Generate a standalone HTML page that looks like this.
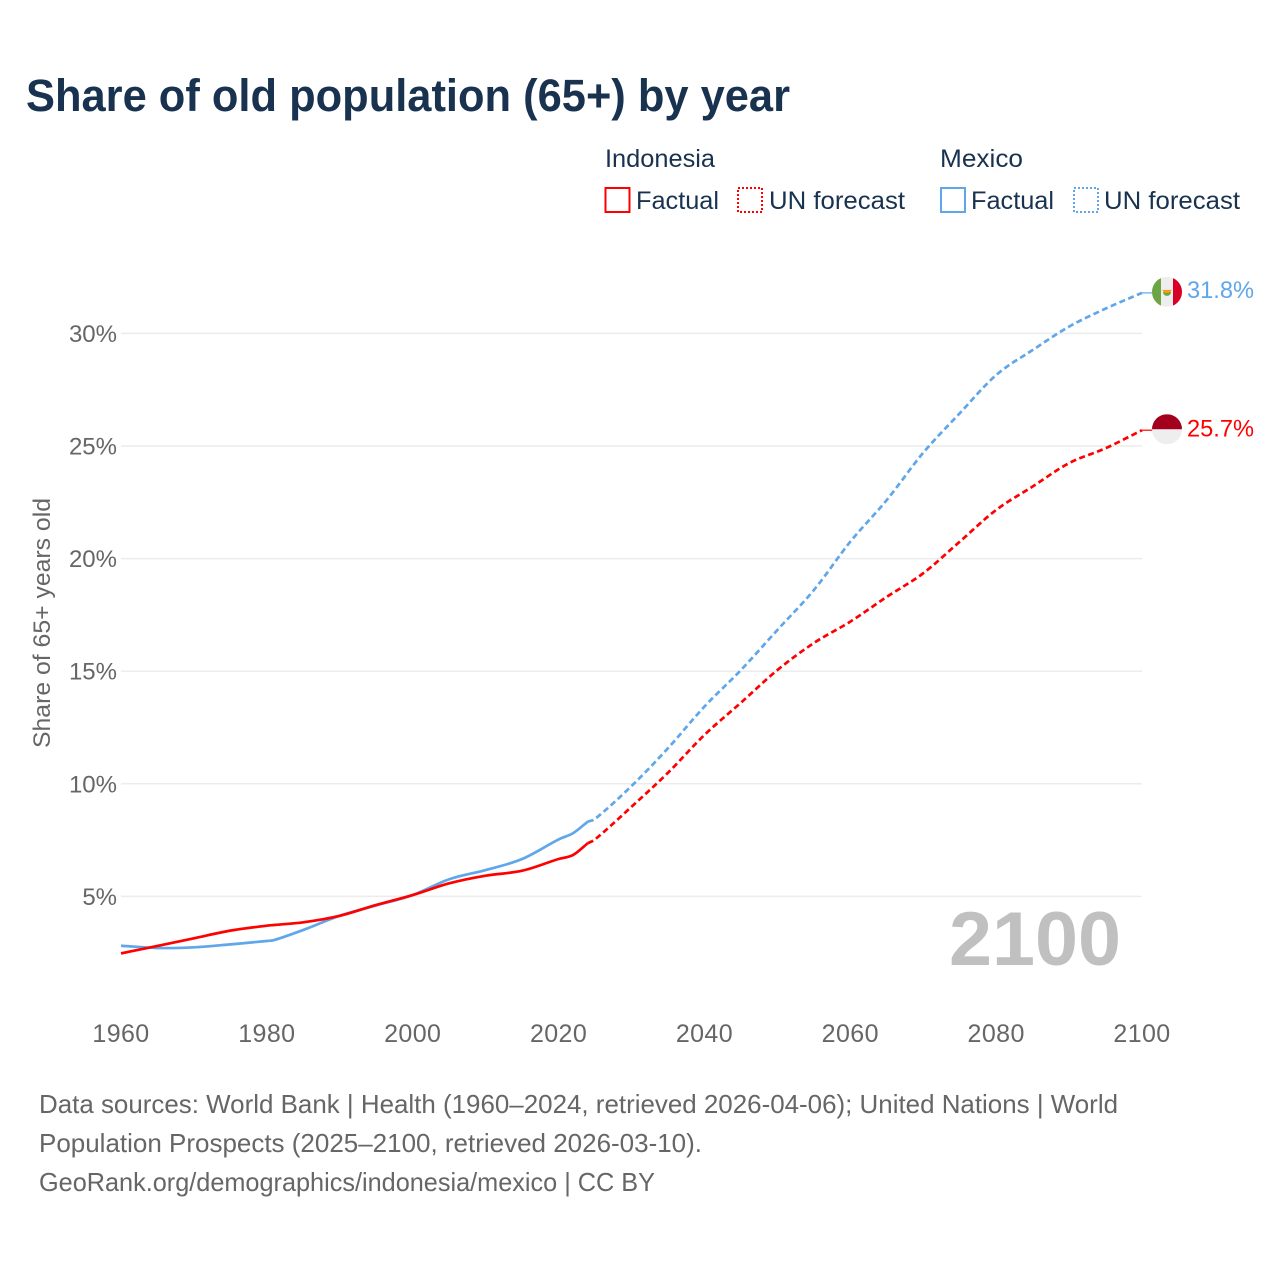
<!DOCTYPE html>
<html lang="en">
<head>
<meta charset="utf-8">
<title>Share of old population (65+) by year</title>
<style>
html,body{margin:0;padding:0;background:#fff;width:1280px;height:1280px;overflow:hidden}
svg{display:block}
text{font-family:"Liberation Sans",sans-serif}
</style>
</head>
<body>
<svg id="chart" xmlns="http://www.w3.org/2000/svg" width="1280" height="1280" viewBox="0 0 1280 1280">
  <rect width="1280" height="1280" fill="#fff"/>
  <text x="26" y="111" font-size="45" font-weight="700" fill="#18324f" textLength="764" lengthAdjust="spacingAndGlyphs">Share of old population (65+) by year</text>

  <g font-size="25" fill="#18324f">
    <text x="605" y="167" textLength="110" lengthAdjust="spacingAndGlyphs">Indonesia</text>
    <text x="940" y="167" textLength="83" lengthAdjust="spacingAndGlyphs">Mexico</text>
    <rect x="605.5" y="188" width="24" height="24" fill="none" stroke="#ff0000" stroke-width="2"/>
    <text x="636" y="209" textLength="83" lengthAdjust="spacingAndGlyphs">Factual</text>
    <rect x="738" y="188" width="24" height="24" fill="none" stroke="#ff0000" stroke-width="2" stroke-dasharray="2 2"/>
    <text x="769" y="209" textLength="136" lengthAdjust="spacingAndGlyphs">UN forecast</text>
    <rect x="941" y="188" width="24" height="24" fill="none" stroke="#5fa6ea" stroke-width="2"/>
    <text x="971" y="209" textLength="83" lengthAdjust="spacingAndGlyphs">Factual</text>
    <rect x="1074" y="188" width="24" height="24" fill="none" stroke="#5fa6ea" stroke-width="2" stroke-dasharray="2 2"/>
    <text x="1104" y="209" textLength="136" lengthAdjust="spacingAndGlyphs">UN forecast</text>
  </g>

  <g id="grid"></g>
  <g id="yticks"></g>
  <g id="xticks"></g>

  <text transform="translate(50,748) rotate(-90)" font-size="24" fill="#666" textLength="250" lengthAdjust="spacingAndGlyphs">Share of 65+ years old</text>

  <text x="949" y="965" font-size="76" font-weight="700" fill="#c0c0c0" textLength="172" lengthAdjust="spacingAndGlyphs">2100</text>

  <g id="series"></g>

  <g id="flag-mexico">
    <clipPath id="clip-mx"><circle r="15"/></clipPath>
    <g clip-path="url(#clip-mx)">
      <rect x="-15" y="-15" width="30" height="30" fill="#eeeeee"/>
      <rect x="-15" y="-15" width="9" height="30" fill="#6da544"/>
      <rect x="6" y="-15" width="9" height="30" fill="#d80027"/>
      <path d="M-4 0a4 4 0 0 0 8 0z" fill="#6da544"/>
      <path d="M-5 -2h10l-3 3h-4z" fill="#ff9811"/>
    </g>
  </g>
  <g id="flag-indonesia">
    <clipPath id="clip-id"><circle r="15"/></clipPath>
    <g clip-path="url(#clip-id)">
      <rect x="-15" y="-15" width="30" height="30" fill="#eeeeee"/>
      <rect x="-15" y="-15" width="30" height="15" fill="#a2001d"/>
    </g>
  </g>
  <text id="label-mexico" x="1187" font-size="24.5" fill="#5fa6ea" textLength="67" lengthAdjust="spacingAndGlyphs"></text>
  <text id="label-indonesia" x="1187" font-size="24.5" fill="#ff0000" textLength="67" lengthAdjust="spacingAndGlyphs"></text>

  <g font-size="26" fill="#666">
    <text x="39" y="1113" textLength="1079" lengthAdjust="spacingAndGlyphs">Data sources: World Bank | Health (1960–2024, retrieved 2026-04-06); United Nations | World</text>
    <text x="39" y="1152" textLength="663" lengthAdjust="spacingAndGlyphs">Population Prospects (2025–2100, retrieved 2026-03-10).</text>
    <text x="39" y="1191" textLength="616" lengthAdjust="spacingAndGlyphs">GeoRank.org/demographics/indonesia/mexico | CC BY</text>
  </g>
</svg>
<script>
const factualYears = [1960,1965,1970,1975,1980,1981,1985,1990,1995,2000,2005,2010,2015,2020,2022,2024];
const indonesiaFactual = [2.47,2.80,3.14,3.48,3.70,3.73,3.85,4.14,4.62,5.06,5.58,5.92,6.14,6.66,6.84,7.36];
const mexicoFactual = [2.81,2.71,2.74,2.87,3.02,3.06,3.51,4.14,4.60,5.06,5.76,6.17,6.66,7.53,7.81,8.32];
const forecastYears = [2024,2025,2030,2035,2040,2045,2050,2055,2060,2065,2070,2075,2080,2085,2090,2095,2100];
const indonesiaForecast = [7.36,7.53,8.98,10.49,12.17,13.60,15.05,16.25,17.20,18.30,19.35,20.75,22.16,23.20,24.24,24.90,25.70];
const mexicoForecast = [8.32,8.44,9.90,11.58,13.43,15.05,16.83,18.60,20.75,22.60,24.70,26.45,28.15,29.26,30.30,31.10,31.80];
const yTickValues = [5,10,15,20,25,30];
const xTickValues = [1960,1980,2000,2020,2040,2060,2080,2100];

const NS = 'http://www.w3.org/2000/svg';
function xScale(year){ return 121 + (year - 1960) * (1142 - 121) / 140; }
function yScale(v){ return 1009 - v * 22.52; }
function make(tag, attrs, parent){
  const el = document.createElementNS(NS, tag);
  for (const k in attrs) el.setAttribute(k, attrs[k]);
  parent.appendChild(el);
  return el;
}
const gridG = document.getElementById('grid');
const yG = document.getElementById('yticks');
const xG = document.getElementById('xticks');
const seriesG = document.getElementById('series');

yTickValues.forEach(function(v){
  const line = make('line', {x1:121, x2:1142, y1:yScale(v), y2:yScale(v), stroke:'#ececec', 'stroke-width':1.5}, gridG);
  
  
  const t = make('text', {x:117, y:yScale(v) + 8.5, 'text-anchor':'end', 'font-size':24, fill:'#666'}, yG);
  
  
  t.textContent = v + '%';
});
xTickValues.forEach(function(y){
  const t = make('text', {x:xScale(y), y:1042, 'text-anchor':'middle', 'font-size':25, 'letter-spacing':0.4, fill:'#666'}, xG);
  
  
  t.textContent = y;
});
function pathFor(years, values){
  const xs = years.map(xScale);
  const ys = values.map(yScale);
  const n = xs.length;
  const slope = xs.map(function(x, i){
    const a = Math.max(i - 1, 0);
    const b = Math.min(i + 1, n - 1);
    return (ys[b] - ys[a]) / (xs[b] - xs[a]);
  });
  let d = 'M' + xs[0].toFixed(2) + ' ' + ys[0].toFixed(2);
  for (let i = 1; i < n; i++) {
    const h = (xs[i] - xs[i - 1]) / 3;
    d += 'C' + (xs[i - 1] + h).toFixed(2) + ' ' + (ys[i - 1] + slope[i - 1] * h).toFixed(2) +
         ' ' + (xs[i] - h).toFixed(2) + ' ' + (ys[i] - slope[i] * h).toFixed(2) +
         ' ' + xs[i].toFixed(2) + ' ' + ys[i].toFixed(2);
  }
  return d;
}
function drawLine(name, years, values, color, dash){
  const attrs = {d:pathFor(years, values), fill:'none', stroke:color, 'stroke-width':2.7, 'stroke-linejoin':'round'};
  if (dash) attrs['stroke-dasharray'] = dash;
  const p = make('path', attrs, seriesG);
  
  
}
drawLine('line-mexico-factual', factualYears, mexicoFactual, '#5fa6ea');
drawLine('line-mexico-forecast', forecastYears, mexicoForecast, '#5fa6ea', '6 3.5');
drawLine('line-indonesia-factual', factualYears, indonesiaFactual, '#ff0000');
drawLine('line-indonesia-forecast', forecastYears, indonesiaForecast, '#ff0000', '6 3.5');

function endMark(key, values, color, labelOffset){
  const last = values[values.length - 1];
  const yy = yScale(last);
  const lead = make('line', {x1:xScale(2100), x2:1153, y1:yy, y2:yy, stroke:color, 'stroke-width':1.5, 'stroke-opacity':0.8}, seriesG);
  
  
  document.getElementById('flag-' + key).setAttribute('transform', 'translate(1167,' + (yy - 1) + ')');
  const lab = document.getElementById('label-' + key);
  lab.setAttribute('y', yy + labelOffset);
  lab.textContent = last.toFixed(1) + '%';
}
endMark('mexico', mexicoForecast, '#5fa6ea', 5);
endMark('indonesia', indonesiaForecast, '#ff0000', 6.5);
</script>
</body>
</html>
